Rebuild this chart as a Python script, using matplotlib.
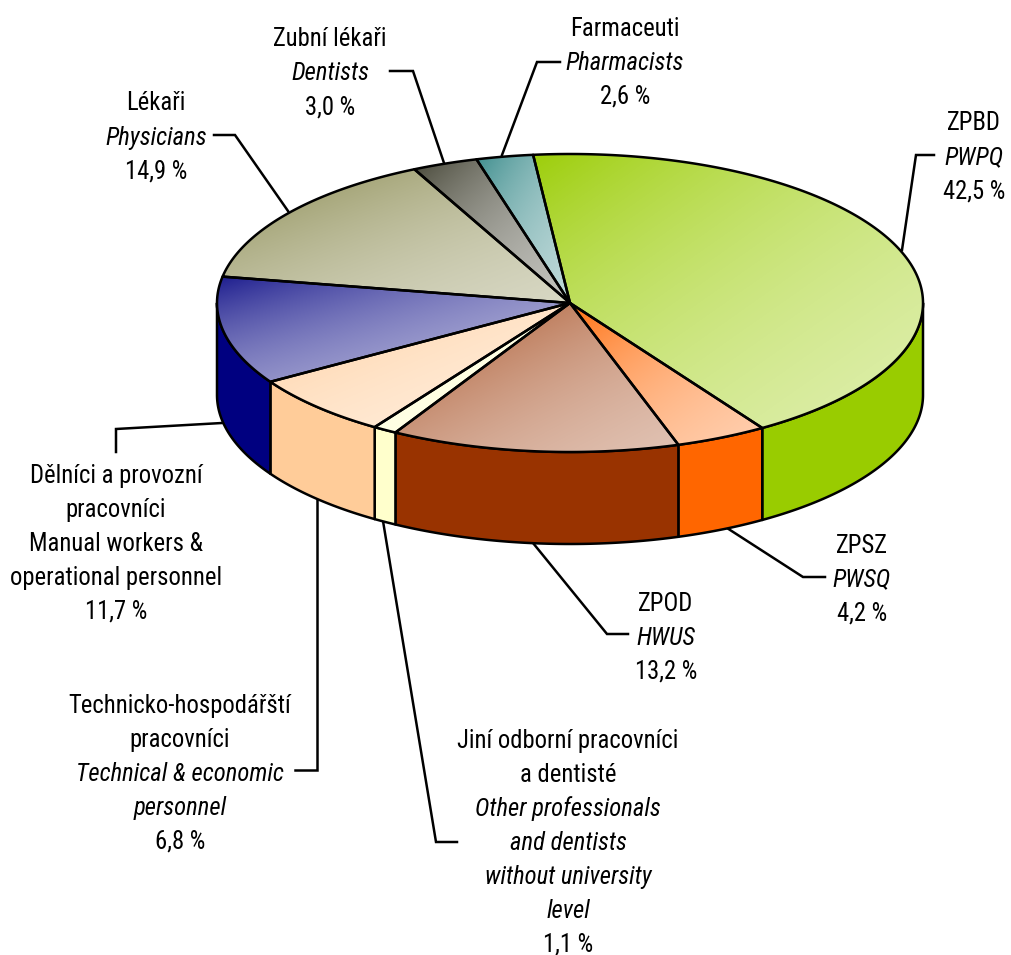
import numpy as np
import matplotlib
matplotlib.use("Agg")
import matplotlib.pyplot as plt
from matplotlib import font_manager as fm
from matplotlib.colors import to_rgb
from matplotlib.patches import Polygon

# ---------- data ----------
values = [42.5, 4.2, 13.2, 1.1, 6.8, 11.7, 14.9, 3.0, 2.6]
colors = ["#99CC00", "#FF6600", "#993300", "#FFFFCC", "#FFCC99",
          "#000080", "#808040", "#333322", "#2F8585"]
label_lines = [
    ["ZPBD", "PWPQ", "42,5 %"],
    ["ZPSZ", "PWSQ", "4,2 %"],
    ["ZPOD", "HWUS", "13,2 %"],
    ["Jiní odborní pracovníci", "a dentisté", "Other professionals",
     "and dentists", "without university", "level", "1,1 %"],
    ["Technicko-hospodářští", "pracovníci", "Technical & economic",
     "personnel", "6,8 %"],
    ["Dělníci a provozní", "pracovníci", "Manual workers &",
     "operational personnel", "11,7 %"],
    ["Lékaři", "Physicians", "14,9 %"],
    ["Zubní lékaři", "Dentists", "3,0 %"],
    ["Farmaceuti", "Pharmacists", "2,6 %"],
]
italic_lines = [[1], [1], [1], [2, 3, 4, 5], [2, 3], [], [1], [1], [1]]

# ---------- layout (pixels) ----------
W, H = 1011, 955
CX, CY, RX, RY, DEPTH = 570, 303, 353, 149, 92
START = -6.0
LW = 1.8
label_pos = [(974, 121), (862, 543), (666, 601), (568, 738), (180, 703),
             (116, 473), (156, 101), (330, 37), (625, 26)]
LINE_STEP = 34.0
leaders = [
    [(902, 250), (916, 155), (934, 155)],
    [(727, 528), (803, 577), (825, 577)],
    [(533, 543), (607, 634), (628, 634)],
    [(383, 521), (436, 842), (457, 842)],
    [(317, 499), (317, 770), (295, 770)],
    [(222, 423), (116, 429), (116, 452)],
    [(288, 211), (235, 135), (214, 135)],
    [(444, 163), (413, 71), (390, 71)],
    [(502, 155), (537, 62), (560, 62)],
]

try:
    fm.findfont("Roboto Condensed", fallback_to_default=False)
    FONT, FS = ["Roboto Condensed", "Liberation Sans"], 17.7
except ValueError:
    FONT, FS = ["Liberation Sans", "DejaVu Sans"], 15.7

fig = plt.figure(figsize=(W / 100, H / 100), dpi=100, facecolor="white")
ax = fig.add_axes([0, 0, 1, 1])
ax.axis("off")


def arc(a0, a1, dy=0.0):
    t = np.radians(np.linspace(a0, a1, max(int(abs(a1 - a0) * 2), 2)))
    return np.column_stack([CX + RX * np.sin(t), CY - RY * np.cos(t) + dy])


for pts in leaders:
    p = np.array(pts)
    ax.plot(p[:, 0], p[:, 1], color="black", lw=LW, solid_joinstyle="miter", zorder=1)

edges = START + np.concatenate([[0], np.cumsum(values)]) * 360.0 / sum(values)

# side walls (front half only)
for a0, a1, c in zip(edges[:-1], edges[1:], colors):
    s0, s1 = max(a0, 90), min(a1, 270)
    if s1 <= s0:
        continue
    poly = np.vstack([arc(s0, s1), arc(s0, s1, DEPTH)[::-1]])
    ax.add_patch(Polygon(poly, closed=True, fc=c, ec="black", lw=LW,
                         joinstyle="round", zorder=2))

# top faces with diagonal gradient
MIX_MAX, KNEE, DARK_LIFT = 0.66, 1.5, 0.12
for a0, a1, c in zip(edges[:-1], edges[1:], colors):
    poly = np.vstack([[(CX, CY)], arc(a0, a1)])
    x0, y0 = poly.min(axis=0)
    x1, y1 = poly.max(axis=0)
    n = 128
    gx, gy = np.meshgrid(np.linspace(0, 1, n), np.linspace(0, 1, n))
    t = (gx + gy) / 2
    base = np.array(to_rgb(c))
    lum = base @ np.array([0.3, 0.59, 0.11])
    mix = MIX_MAX * (1 - np.exp(-KNEE * t)) / (1 - np.exp(-KNEE))
    mix = mix + DARK_LIFT * (1 - lum) * (1 - 0.5 * t)
    img = base[None, None, :] + (1 - base[None, None, :]) * mix[..., None]
    im = ax.imshow(img, extent=(x0, x1, y1, y0), aspect="auto",
                   interpolation="bilinear", zorder=3)
    patch = Polygon(poly, closed=True, fc="none", ec="black", lw=LW,
                    joinstyle="round", zorder=4)
    ax.add_patch(patch)
    im.set_clip_path(patch)

# labels
for lines, ital, (x, y) in zip(label_lines, italic_lines, label_pos):
    for i, s in enumerate(lines):
        ax.text(x, y + i * LINE_STEP, s, ha="center", va="center_baseline",
                fontsize=FS, family=FONT,
                style="italic" if i in ital else "normal", color="black", zorder=5)

ax.set_xlim(0, W)
ax.set_ylim(H, 0)
fig.savefig("out.png", dpi=100, facecolor="white")
